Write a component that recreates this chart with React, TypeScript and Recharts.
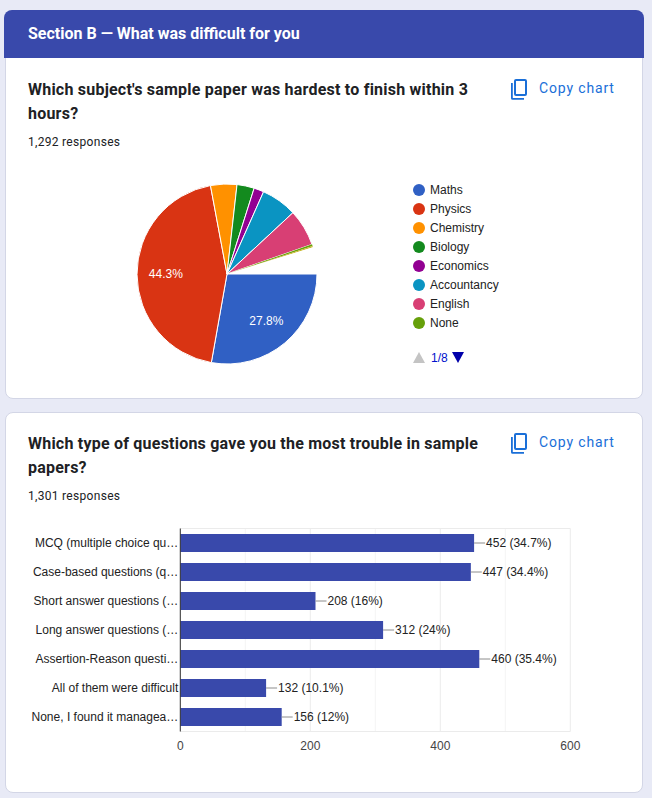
import { BarChart, Bar, XAxis, YAxis, CartesianGrid, LabelList, PieChart, Pie, Cell } from "recharts";

const SUBJECTS = ["Maths", "Physics", "Chemistry", "Biology", "Economics", "Accountancy", "English", "None", "Other", "Rest"];
const SUBJECT_COUNTS = [359, 572, 61, 40, 23, 83, 85, 4, 3, 62];
const SUBJECT_COLORS = ["#3060c4", "#d93413", "#ff9100", "#138a1e", "#920092", "#0a94c2", "#d83f74", "#66a00a", "#c9b92e", "#ffffff"];
const LEGEND_ITEMS = 8;

const QUESTION_TYPES = [
  "MCQ (multiple choice qu…",
  "Case-based questions (q…",
  "Short answer questions (…",
  "Long answer questions (…",
  "Assertion-Reason questi…",
  "All of them were difficult",
  "None, I found it managea…",
];
const TYPE_COUNTS = [452, 447, 208, 312, 460, 132, 156];
const TYPE_PERCENTS = ["34.7%", "34.4%", "16%", "24%", "35.4%", "10.1%", "12%"];
const MAJOR_TICKS = [0, 200, 400, 600];
const MINOR_TICKS = [100, 300, 500];

const pieData = SUBJECTS.map((name, i) => ({ name, value: SUBJECT_COUNTS[i] }));
const barData = QUESTION_TYPES.map((name, i) => ({ name, count: TYPE_COUNTS[i], label: `${TYPE_COUNTS[i]} (${TYPE_PERCENTS[i]})` }));

const ROBOTO = "Roboto, sans-serif";
const ARIAL = "'Liberation Sans', Arial, sans-serif";
const RAD = Math.PI / 180;

function PieLabel({ cx, cy, midAngle, outerRadius, percent }: any) {
  if (percent < 0.1) return null;
  const r = outerRadius * 0.68;
  const x = cx + r * Math.cos(-midAngle * RAD);
  const y = cy + r * Math.sin(-midAngle * RAD);
  return (
    <text x={x} y={y} fill="#fff" fontSize={12} fontFamily={ARIAL} textAnchor="middle" dominantBaseline="central">
      {(percent * 100).toFixed(1)}%
    </text>
  );
}

function BarLabel({ x, y, width, height, value }: any) {
  const end = x + width;
  const mid = y + height / 2;
  return (
    <g>
      <line x1={end} x2={end + 11} y1={mid} y2={mid} stroke="#8c8c8c" strokeWidth={1} />
      <text x={end + 12} y={mid} fill="#222" fontSize={12} fontFamily={ARIAL} dominantBaseline="central">
        {value}
      </text>
    </g>
  );
}

// one-line tick, the library's own text wraps the long labels
function CategoryTick({ x, y, payload }: any) {
  return (
    <text x={x + 6} y={y} fill="#222" fontSize={12} fontFamily={ARIAL} textAnchor="end" dominantBaseline="central">
      {payload.value}
    </text>
  );
}

function CopyChart({ top }: { top: number }) {
  return (
    <>
      <svg width={24} height={24} viewBox="0 0 24 24" style={{ position: "absolute", left: 507, top: top - 1 }}>
        <path
          fill="#1a6fd8"
          d="M9 2h9a2 2 0 0 1 2 2v13a2 2 0 0 1-2 2H9a2 2 0 0 1-2-2V4a2 2 0 0 1 2-2zm0 2v13h9V4H9zM4 6h1.8v15H17v1.8H5.6A1.6 1.6 0 0 1 4 21.2V6z"
        />
      </svg>
      <div style={{ position: "absolute", left: 539, top, fontFamily: ROBOTO, fontSize: 14, lineHeight: "20px", letterSpacing: 0.85, color: "#1a6fd8" }}>
        Copy chart
      </div>
    </>
  );
}

function Question({ top, lines, responses }: { top: number; lines: string[]; responses: string }) {
  return (
    <>
      <div style={{ position: "absolute", left: 28, top, fontFamily: ROBOTO, fontWeight: 700, fontSize: 16, lineHeight: "24px", letterSpacing: 0.22, color: "#202124", whiteSpace: "nowrap" }}>
        {lines.map((l) => (
          <div key={l}>{l}</div>
        ))}
      </div>
      <div style={{ position: "absolute", left: 28, top: top + 56, fontFamily: ROBOTO, fontSize: 12, lineHeight: "16px", letterSpacing: 0.3, color: "#202124" }}>
        {responses}
      </div>
    </>
  );
}

const cardStyle = { position: "absolute", left: 5, width: 638, background: "#fff", border: "1px solid #d3d6e6", borderRadius: 8, boxSizing: "border-box" } as const;

export default function App() {
  return (
    <div style={{ position: "relative", width: 652, height: 798, background: "#e8eaf6", overflow: "hidden" }}>
      <style>{`body{margin:0}`}</style>

      <div style={{ ...cardStyle, top: 10, height: 389 }} />
      <div style={{ position: "absolute", left: 4, top: 10, width: 640, height: 48, background: "#3949ab", borderRadius: "8px 8px 0 0" }} />
      <div style={{ position: "absolute", left: 28, top: 24, fontFamily: ROBOTO, fontWeight: 700, fontSize: 16, lineHeight: "20px", color: "#fff", whiteSpace: "nowrap" }}>
        Section B — What was difficult for you
      </div>

      <Question top={78} lines={["Which subject's sample paper was hardest to finish within 3", "hours?"]} responses="1,292 responses" />
      <CopyChart top={78} />

      <div style={{ position: "absolute", left: 100, top: 160 }}>
        <PieChart width={260} height={228} margin={{ top: 0, right: 0, bottom: 0, left: 0 }}>
          <Pie
            data={pieData}
            dataKey="value"
            nameKey="name"
            cx={127}
            cy={114}
            outerRadius={90}
            startAngle={0}
            endAngle={-360}
            label={PieLabel}
            labelLine={false}
            isAnimationActive={false}
          >
            {SUBJECTS.map((s, i) => (
              <Cell key={s} fill={SUBJECT_COLORS[i]} stroke={i < LEGEND_ITEMS - 1 ? "#fff" : "none"} strokeWidth={1} />
            ))}
          </Pie>
        </PieChart>
      </div>

      {SUBJECTS.slice(0, LEGEND_ITEMS).map((s, i) => (
        <div key={s} style={{ position: "absolute", left: 413, top: 180 + i * 19, height: 19, display: "flex", alignItems: "center", fontFamily: ARIAL, fontSize: 12, color: "#222" }}>
          <span style={{ width: 12, height: 12, borderRadius: 6, background: SUBJECT_COLORS[i], marginRight: 5 }} />
          {s}
        </div>
      ))}
      <svg width={14} height={12} style={{ position: "absolute", left: 412, top: 352 }}>
        <polygon points="1,11 13,11 7,0" fill="#c4c4c4" />
      </svg>
      <div style={{ position: "absolute", left: 431, top: 351, fontFamily: ARIAL, fontSize: 12, lineHeight: "14px", color: "#0011cc" }}>1/8</div>
      <svg width={14} height={12} style={{ position: "absolute", left: 451, top: 352 }}>
        <polygon points="1,0 13,0 7,11" fill="#0000aa" />
      </svg>

      <div style={{ ...cardStyle, top: 412, height: 381 }} />
      <Question top={432} lines={["Which type of questions gave you the most trouble in sample", "papers?"]} responses="1,301 responses" />
      <CopyChart top={432} />

      <div style={{ position: "absolute", left: 0, top: 510 }}>
        <BarChart
          width={640}
          height={250}
          data={barData}
          layout="vertical"
          barCategoryGap={5.5}
          margin={{ top: 18.5, right: 69.7, bottom: 0, left: 0 }}
        >
          <CartesianGrid vertical verticalValues={MINOR_TICKS} horizontal={false} stroke="#f4f4f4" />
          <CartesianGrid
            vertical
            verticalValues={MAJOR_TICKS}
            stroke="#ebebeb"
            horizontalCoordinatesGenerator={({ offset }: any) => [offset.top, offset.top + offset.height]}
          />
          <XAxis
            type="number"
            domain={[0, 600]}
            ticks={MAJOR_TICKS}
            height={28.5}
            tickLine={false}
            axisLine={false}
            tick={{ fontSize: 12, fontFamily: ARIAL, fill: "#444" }}
            tickMargin={4}
          />
          <YAxis
            type="category"
            dataKey="name"
            width={180.3}
            interval={0}
            tickLine={false}
            axisLine={{ stroke: "#333", strokeWidth: 1 }}
            tick={CategoryTick}
            tickMargin={2}
          />
          <Bar dataKey="count" fill="#3949ab" isAnimationActive={false}>
            <LabelList dataKey="label" content={BarLabel} />
          </Bar>
        </BarChart>
      </div>
    </div>
  );
}
